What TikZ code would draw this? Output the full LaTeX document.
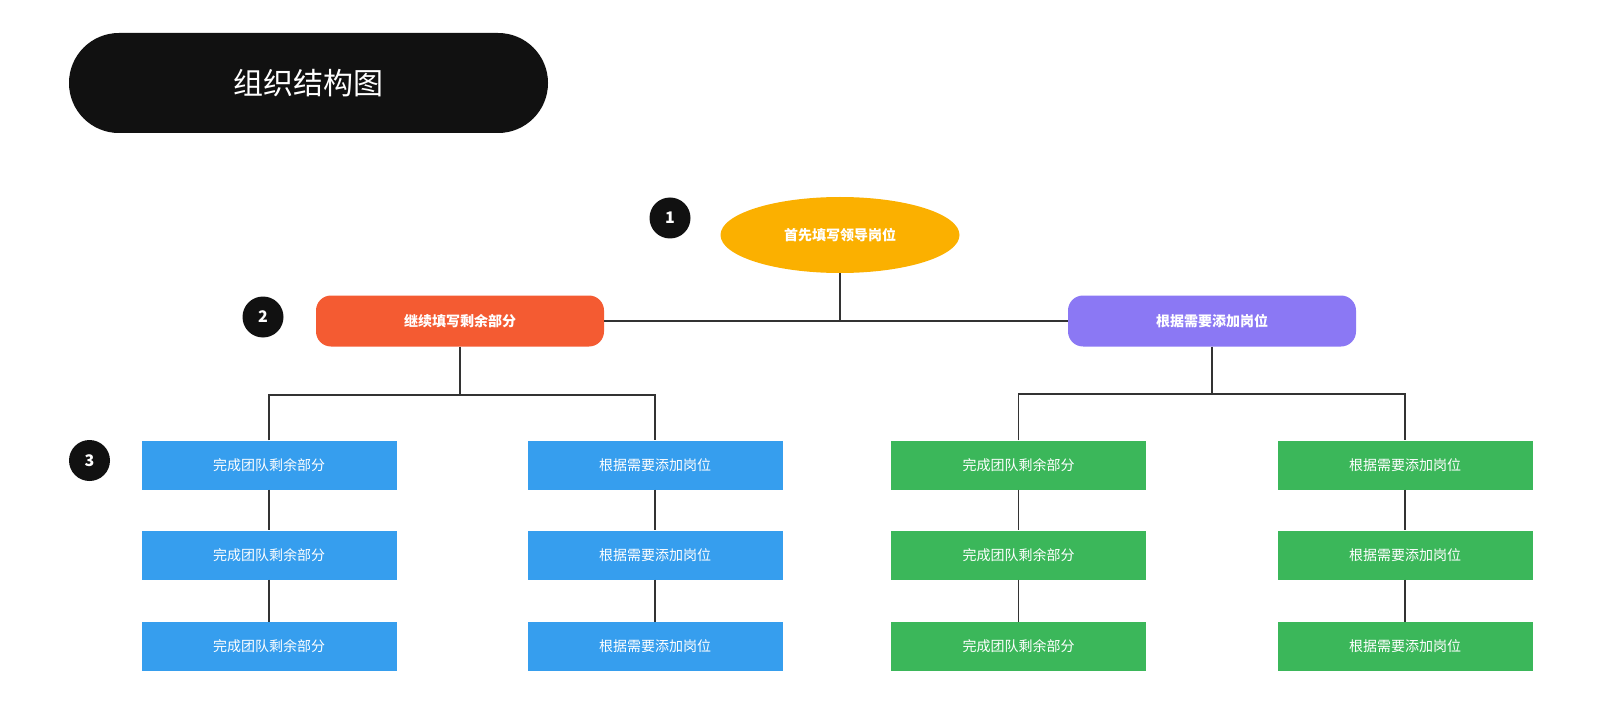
\documentclass[tikz,border=0pt]{standalone}
\usepackage{fontspec}
\setmainfont{Noto Sans CJK SC}
\usetikzlibrary{shapes.geometric}
\definecolor{cblack}{HTML}{111111}
\definecolor{cyellow}{HTML}{FBB000}
\definecolor{corange}{HTML}{F45B32}
\definecolor{cpurple}{HTML}{8B78F4}
\definecolor{cblue}{HTML}{369EEE}
\definecolor{cgreen}{HTML}{3BB75A}
\definecolor{cline}{HTML}{333333}
\begin{document}
\begin{tikzpicture}[x=1pt,y=-1pt,
  box/.style={rectangle, minimum width=255pt, minimum height=49pt, inner sep=0pt, text=white, font=\fontsize{14}{16}\selectfont},
  bluebox/.style={box, fill=cblue},
  greenbox/.style={box, fill=cgreen},
  lvl/.style={rectangle, rounded corners=15pt, minimum width=288pt, minimum height=51pt, inner sep=0pt, text=white, font=\fontsize{14}{16}\selectfont\bfseries},
  num/.style={circle, fill=cblack, minimum size=41pt, inner sep=0pt, text=white, font=\fontsize{16}{18}\selectfont\bfseries},
  link/.style={draw=cline, line width=1.5pt}]
\useasboundingbox (0,0) rectangle (1600,711);
% title
\node[rectangle, rounded corners=49.9pt, fill=cblack, minimum width=479pt, minimum height=100pt, inner sep=0pt, text=white, font=\fontsize{30}{36}\selectfont] (title) at (308.5,83) {组织结构图};
% numbers
\node[num] (n1) at (670,218) {1};
\node[num] (n2) at (263,317) {2};
\node[num] (n3) at (89.5,460.5) {3};
% level 1
\node[ellipse, fill=cyellow, minimum width=239pt, minimum height=76pt, inner sep=0pt, text=white, font=\fontsize{14}{16}\selectfont\bfseries] (e) at (840,235) {首先填写领导岗位};
% level 2
\node[lvl, fill=corange] (o) at (460,321) {继续填写剩余部分};
\node[lvl, fill=cpurple] (p) at (1212,321) {根据需要添加岗位};
% level 3
\node[bluebox] (b11) at (269,465) {完成团队剩余部分};
\node[bluebox] (b12) at (269,555) {完成团队剩余部分};
\node[bluebox] (b13) at (269,646.5) {完成团队剩余部分};
\node[bluebox] (b21) at (655,465) {根据需要添加岗位};
\node[bluebox] (b22) at (655,555) {根据需要添加岗位};
\node[bluebox] (b23) at (655,646.5) {根据需要添加岗位};
\node[greenbox] (g11) at (1018.5,465) {完成团队剩余部分};
\node[greenbox] (g12) at (1018.5,555) {完成团队剩余部分};
\node[greenbox] (g13) at (1018.5,646.5) {完成团队剩余部分};
\node[greenbox] (g21) at (1405,465) {根据需要添加岗位};
\node[greenbox] (g22) at (1405,555) {根据需要添加岗位};
\node[greenbox] (g23) at (1405,646.5) {根据需要添加岗位};
% connectors
\coordinate (ej) at (840,321);
\coordinate (oj) at (460,395);
\coordinate (pj) at (1212,394);
\draw[link] (e.south) -- (ej);
\draw[link] (o.east) -- (p.west);
\draw[link] (o.south) -- (oj);
\draw[link] (b11.north) |- (oj) -| (b21.north);
\draw[link] (p.south) -- (pj);
\draw[link] (g11.north) |- (pj) -| (g21.north);
\draw[link] (b11.south) -- (b12.north);
\draw[link] (b12.south) -- (b13.north);
\draw[link] (b21.south) -- (b22.north);
\draw[link] (b22.south) -- (b23.north);
\draw[link] (g11.south) -- (g12.north);
\draw[link] (g12.south) -- (g13.north);
\draw[link] (g21.south) -- (g22.north);
\draw[link] (g22.south) -- (g23.north);
\end{tikzpicture}
\end{document}
